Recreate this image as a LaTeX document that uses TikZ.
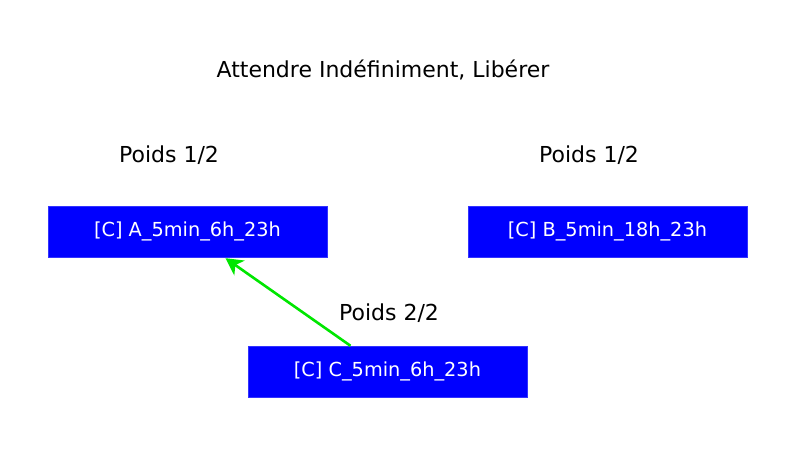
\documentclass[tikz,border=0pt]{standalone}
\usepackage{fontspec}
\setmainfont{DejaVu Sans}
\usetikzlibrary{arrows.meta}
\tikzset{>=Stealth,
  taskbox/.style={fill=blue, draw=blue!80!white, minimum width=279pt, minimum height=51pt,
    inner sep=0pt, text=white, font=\fontsize{19.3}{23}\selectfont},
  poids/.style={font=\fontsize{22}{26}\selectfont},
  flow/.style={draw={rgb,255:red,0;green,230;blue,0}, line width=2.6pt, -{Stealth[length=17pt,width=18pt,inset=5pt]}}}
\begin{document}
\begin{tikzpicture}[x=1pt,y=-1pt]
\useasboundingbox (0,0) rectangle (788,462);
\node[poids] (title) at (383,70) {Attendre Indéfiniment, Libérer};
\node[taskbox] (A) at (187.5,231.5) {[C] A\_5min\_6h\_23h};
\node[taskbox] (B) at (607.5,231.5) {[C] B\_5min\_18h\_23h};
\node[taskbox] (C) at (387.5,371.5) {[C] C\_5min\_6h\_23h};
\node[poids] (pA) at (169,155) {Poids 1/2};
\node[poids] (pB) at (589,155) {Poids 1/2};
\node[poids] (pC) at (389,313) {Poids 2/2};
\draw[flow] ([xshift=-37pt]C.north) -- ([xshift=38pt,yshift=-1pt]A.south);
\end{tikzpicture}
\end{document}
